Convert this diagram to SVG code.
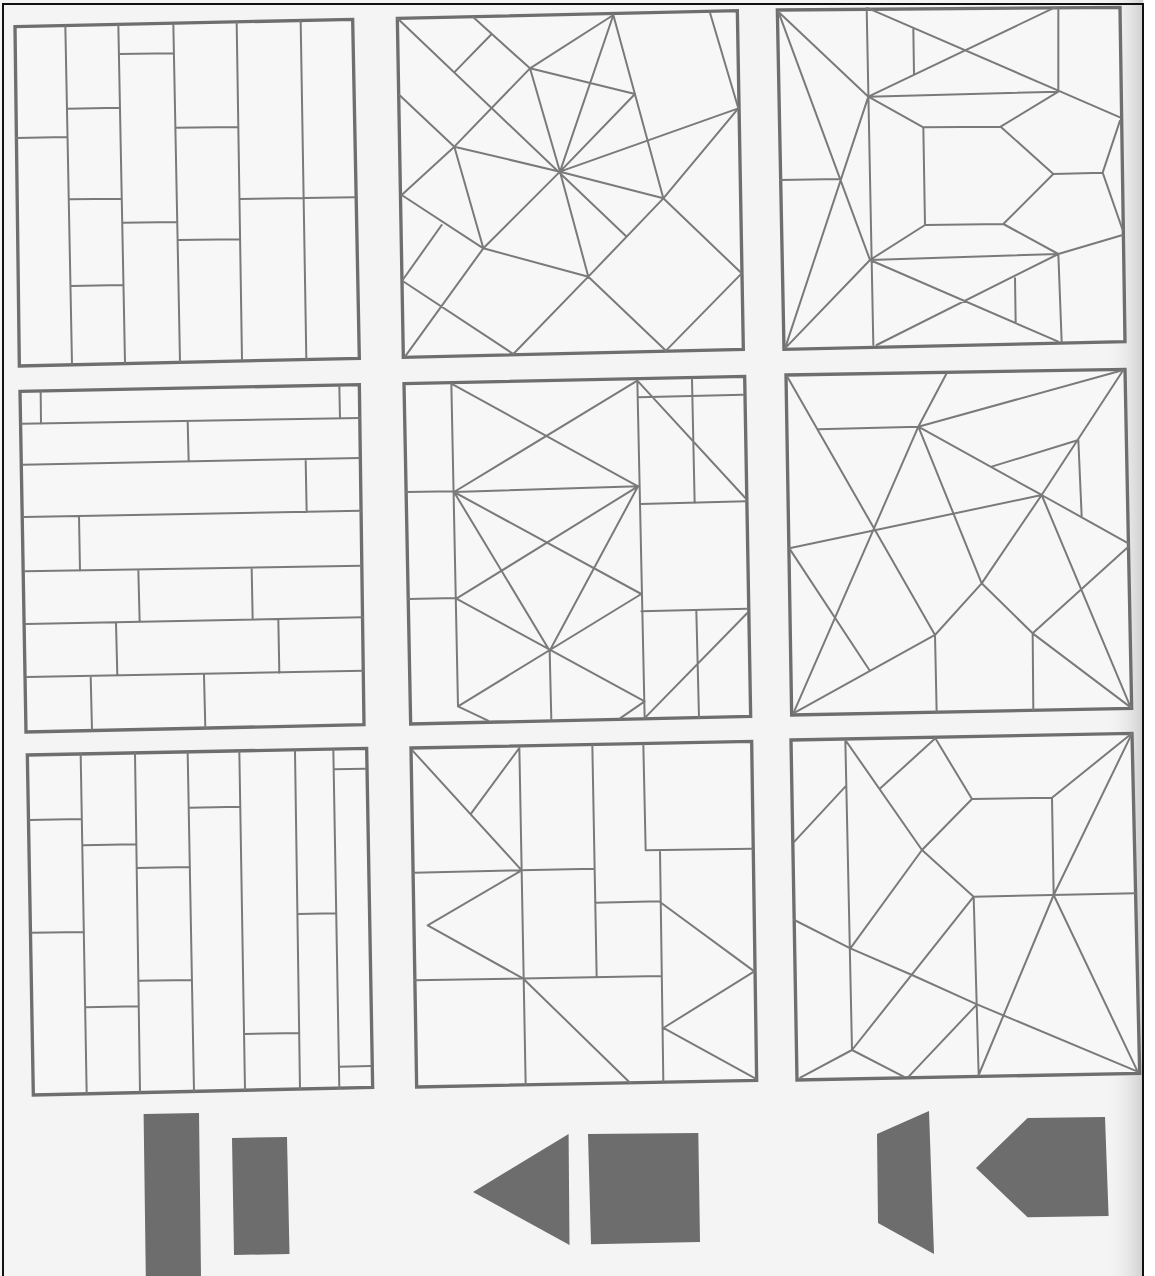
<svg xmlns="http://www.w3.org/2000/svg" width="1155" height="1276" viewBox="0 0 1155 1276">
<defs>
<style>
.ln{fill:none;stroke:#7a7a7a;stroke-width:6;stroke-linecap:round;stroke-linejoin:round}
.fr{fill:#f7f7f7;stroke:#6e6e6e;stroke-width:10;stroke-linejoin:miter}
.sh{fill:#6d6d6d;stroke:none}
</style>
<linearGradient id="shade" x1="0" y1="0" x2="1" y2="0">
<stop offset="0" stop-color="#f4f4f4" stop-opacity="0"/>
<stop offset="1" stop-color="#cfcfcf"/>
</linearGradient>
</defs>
<rect x="0" y="0" width="1155" height="1276" fill="#f4f4f4"/>
<rect x="1105" y="0" width="38" height="1276" fill="url(#shade)"/>
<rect x="1144" y="0" width="11" height="1276" fill="#ffffff"/>
<path d="M3,1276 L3,4 L1143,4 L1143,1276" fill="none" stroke="#111" stroke-width="2"/>

<g id="panel1" transform="translate(10,10) scale(0.33333)">
<path class="fr" d="M15,50 L1028,28 L1048,1045 L28,1068 Z"/>
<path class="ln" d="M166,48 L186,1062 M325,45 L345,1058 M490,42 L510,1055 M680,37 L696,1050 M872,33 L889,1048 M18,384 L171,381 M172,296 L329,293 M177,568 L334,566 M183,828 L339,825 M327,132 L491,130 M337,638 L501,636 M496,353 L684,351 M504,690 L690,688 M689,567 L1033,562"/>
</g>

<g id="panel2" transform="translate(390,0) scale(0.33333)">
<path class="fr" d="M22,55 L1042,32 L1060,1048 L40,1072 Z"/>
<path class="ln" d="M22,55 L710,710 M250,52 L420,205 M305,102 L195,215 M420,205 L670,45 M420,205 L735,282 M420,205 L193,440 M193,440 L35,585 M420,205 L510,515 M670,45 L510,515 M670,45 L820,595 M735,282 L510,515 M960,38 L1045,325 M1045,325 L510,515 M1045,325 L820,595 L595,830 L370,1062 M510,515 L820,595 M820,595 L1055,820 M1055,820 L828,1052 M595,830 L828,1052 M510,515 L595,830 M595,830 L280,745 M280,745 L510,515 M280,745 L193,440 M193,440 L510,515 M28,285 L193,440 M35,585 L280,745 M155,675 L38,840 M280,745 L45,1070 M38,843 L370,1062"/>
</g>

<g id="panel3" transform="translate(770,0) scale(0.33333)">
<path class="fr" d="M22,30 L1050,22 L1065,1025 L42,1048 Z"/>
<path class="ln" d="M25,35 L295,290 M25,35 L300,780 M295,290 L45,1045 M45,1045 L300,780 M290,25 L310,1035 M295,290 L855,22 M295,25 L865,272 M430,88 L432,222 M865,22 L865,272 M295,290 L865,275 M865,272 L1050,352 M295,290 L460,382 M460,382 L692,380 M460,382 L465,675 M465,675 L700,672 M692,380 L865,275 M692,380 L850,522 M850,522 L998,518 M850,522 L700,672 M998,518 L1050,362 M998,518 L1058,690 M700,672 L865,762 M865,762 L1058,705 M465,675 L300,780 M300,780 L865,762 M300,780 L865,1025 M865,762 L320,1035 M865,762 L875,1025 M735,835 L737,965 M30,540 L210,537"/>
</g>

<g id="panel4" transform="translate(10,378) scale(0.33333)">
<path class="fr" d="M30,40 L1048,20 L1062,1040 L48,1062 Z"/>
<path class="ln" d="M35,137 L1050,120 M38,260 L1050,240 M42,417 L1052,398 M45,580 L1055,563 M48,738 L1058,718 M50,897 L1060,878 M92,42 L93,137 M988,25 L990,120 M533,130 L536,250 M887,245 L890,402 M207,415 L210,578 M385,577 L389,732 M725,570 L728,723 M318,735 L322,892 M805,725 L808,885 M242,895 L246,1055 M582,890 L586,1050"/>
</g>

<g id="panel5" transform="translate(398,368) scale(0.33333)">
<path class="fr" d="M18,47 L1040,25 L1058,1045 L38,1068 Z"/>
<path class="ln" d="M160,47 L180,1015 M718,38 L740,1050 M25,372 L168,370 M168,372 L720,355 M30,693 L175,690 M160,47 L720,355 M718,38 L168,372 M168,372 L730,678 M720,355 L175,692 M168,372 L455,848 M720,355 L455,848 M175,692 L740,1000 M730,678 L180,1015 M455,848 L460,1055 M180,1015 L270,1058 M740,1000 L665,1052 M722,88 L1035,80 M882,35 L890,405 M718,38 L1042,390 M728,408 L1045,400 M730,730 L1048,722 M895,730 L903,1048 M1048,735 L742,1048"/>
</g>

<g id="panel6" transform="translate(780,360) scale(0.33333)">
<path class="fr" d="M18,45 L1035,28 L1055,1045 L35,1065 Z"/>
<path class="ln" d="M22,50 L465,825 M500,40 L415,200 M115,208 L415,200 M415,200 L1030,30 M415,200 L40,1060 M415,200 L605,670 M415,200 L785,405 M635,320 L895,240 M895,240 L905,468 M1030,30 L785,405 L605,670 L465,825 M785,405 L1045,550 M785,405 L1052,1042 M28,565 L785,405 M28,565 L268,930 M40,1060 L465,825 M465,825 L470,1055 M605,670 L758,820 L1052,1042 M758,820 L1045,560 M758,820 L760,1052"/>
</g>

<g id="panel7" transform="translate(20,740) scale(0.33333)">
<path class="fr" d="M22,45 L1040,25 L1058,1042 L40,1065 Z"/>
<path class="ln" d="M182,42 L200,1060 M345,40 L360,1055 M503,38 L522,1052 M658,35 L675,1050 M825,33 L840,1048 M940,30 L958,1045 M28,240 L185,237 M35,578 L192,576 M188,316 L347,313 M197,802 L356,799 M350,384 L510,381 M357,722 L515,720 M508,203 L660,200 M675,882 L838,879 M832,522 L948,520 M942,88 L1035,86 M958,980 L1052,978"/>
</g>

<g id="panel8" transform="translate(405,732) scale(0.33333)">
<path class="fr" d="M18,48 L1040,28 L1055,1045 L35,1065 Z"/>
<path class="ln" d="M343,45 L362,1058 M562,40 L575,735 M715,38 L722,355 M722,355 L1042,350 M765,358 L775,1048 M25,422 L568,410 M570,512 L765,508 M30,745 L768,732 M22,55 L350,415 M343,48 L198,245 M350,415 L68,580 L355,740 M355,740 L675,1052 M765,510 L1048,718 L775,888 L1052,1040"/>
</g>

<g id="panel9" transform="translate(787,725) scale(0.33333)">
<path class="fr" d="M12,45 L1035,25 L1058,1045 L30,1065 Z"/>
<path class="ln" d="M175,45 L195,975 M22,350 L175,185 M175,45 L405,375 M280,190 L445,40 M445,40 L555,222 M555,222 L795,218 M795,218 L1035,25 M795,218 L800,510 M555,222 L405,375 M405,375 L190,670 M405,375 L560,515 M560,515 L1045,505 M1035,25 L800,510 L575,1050 M800,510 L1052,1040 M560,515 L575,1050 M560,515 L195,975 M22,585 L190,670 L375,750 L570,838 L1052,1040 M570,838 L365,1055 M195,975 L40,1058 M195,975 L350,1055"/>
</g>

<g id="shapes">
<polygon class="sh" points="143.6,1114 199,1113 201,1276 145.8,1276"/>
<polygon class="sh" points="232,1138 287,1137 289.5,1254 234,1255"/>
<polygon class="sh" points="568.6,1134 473,1192 569.5,1245"/>
<polygon class="sh" points="588,1134 698.3,1133 700,1242 591,1244.3"/>
<polygon class="sh" points="877,1134 929,1111 934,1254 878,1223"/>
<polygon class="sh" points="1027.6,1118 1105,1117 1108.6,1216 1027.6,1217.3 976,1168"/>
</g>
</svg>
